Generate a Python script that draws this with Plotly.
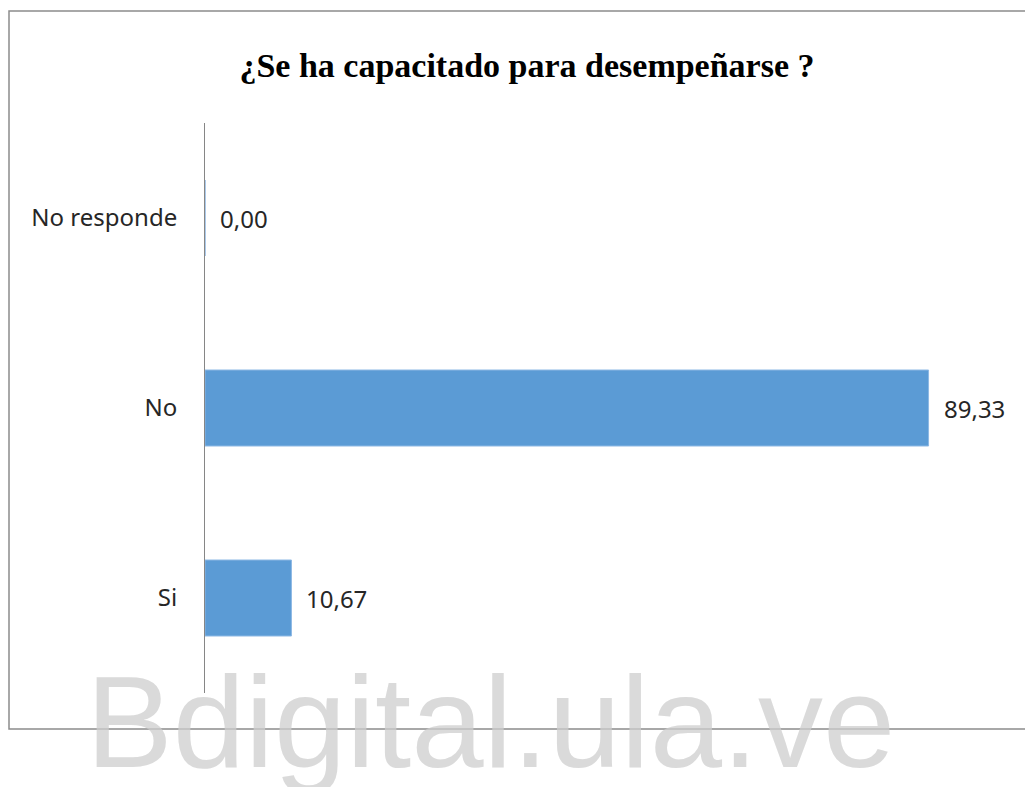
import plotly.graph_objects as go

# chart data
categories = ["Si", "No", "No responde"]
values = [10.67, 89.33, 0.00]
value_labels = ["10,67", "89,33", "0,00"]

title_text = "¿Se ha capacitado para desempeñarse ?"
watermark = "Bdigital.ula.ve"

label_font = {"family": "Noto Sans, Open Sans, sans-serif", "size": 24, "color": "#262626"}

fig = go.Figure()
fig.add_trace(go.Bar(
    x=values,
    y=categories,
    orientation="h",
    marker={"color": "#5B9BD5", "line": {"color": "#8DB8E4", "width": 1}},
    hoverinfo="skip",
))

# value labels beside each bar
for cat, val, lab in zip(categories, values, value_labels):
    fig.add_annotation(
        x=val, y=cat, text=lab, showarrow=False,
        xanchor="left", xshift=13, font=label_font,
    )

# plot area: 810 x 570 px
fig.update_layout(
    width=1033,
    height=787,
    paper_bgcolor="white",
    plot_bgcolor="white",
    showlegend=False,
    bargap=0.6,
    margin={"l": 197, "r": 26, "t": 115, "b": 102},
    title={
        "text": title_text,
        "x": 0.5024, "xanchor": "center",
        "y": 0.9276, "yanchor": "middle",
        "font": {"family": "Liberation Serif, Times New Roman, serif", "size": 34,
                 "color": "black", "weight": "bold"},
    },
    shapes=[
        # outer chart border
        {"type": "rect", "xref": "paper", "yref": "paper",
         "x0": -196 / 810, "x1": 1.04, "y0": -36 / 570, "y1": 1 + 112 / 570,
         "line": {"color": "#8C8C8C", "width": 1.5}, "layer": "below"},
    ],
)

fig.add_annotation(
    text=watermark, xref="paper", yref="paper",
    x=0.353, y=-104 / 570, xanchor="center", yanchor="bottom",
    showarrow=False,
    font={"family": "Liberation Sans, Arial, sans-serif", "size": 130,
          "color": "rgba(205,205,205,0.75)"},
)

fig.update_xaxes(range=[0, 100], visible=False, fixedrange=True)
fig.update_yaxes(
    showline=True, linecolor="#868686", linewidth=1,
    showgrid=False, ticks="", ticklabelstandoff=22,
    tickfont=label_font,
    categoryorder="array", categoryarray=categories,
)

fig.write_html("out.html")
